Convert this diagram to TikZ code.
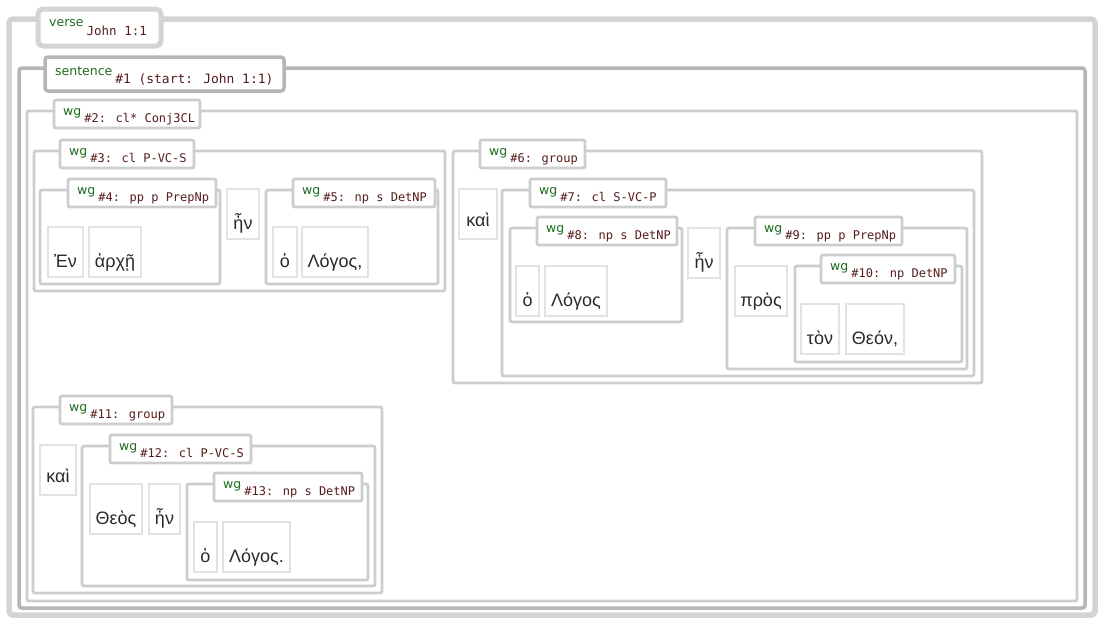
\documentclass[tikz,border=0pt]{standalone}
\usepackage{fontspec}
\setmainfont{Liberation Sans}
\newfontfamily\tagfnt{DejaVu Sans}
\newfontfamily\idfnt{DejaVu Sans Mono}
\definecolor{verc}{HTML}{D4D4D4}
\definecolor{sentc}{HTML}{B6B6B6}
\definecolor{wgc}{HTML}{CDCDCD}
\definecolor{wordc}{HTML}{E2E2E2}
\definecolor{tagc}{HTML}{1F6B1F}
\definecolor{idc}{HTML}{561C1C}
\definecolor{wtc}{HTML}{2A2A2A}

% frame node with its top-left corner at (x1,y1) and bottom-right at (x2,y2)
\newcommand\frameat[6]{%
  \node[#1, minimum width=#5-#3, minimum height=#6-#4] (#2) at (#3,#4) {};}
% label box with tag and id text
\newcommand\tagid[4]{{\tagfnt\fontsize{12.5}{14}\selectfont\color{tagc}#1}\hspace{3pt}%
  \raisebox{-#3}{\idfnt\fontsize{#4}{14}\selectfont\color{idc}#2}}
\newcommand\labelat[9]{%
  \frameat{#1}{#2}{#3}{#4}{#5}{#6}%
  \node[anchor=base west, inner sep=0] (#2t) at ([xshift=#7pt, yshift=-#8pt]#2.north west) {#9};}
\newcommand\wglabel[6]{\labelat{wglab}{#1}{#2}{#3}{#4}{#5}{9}{15}{\tagid{wg}{#6}{7pt}{12}}}
% word box with its text set on a baseline raised from the bottom edge
\newcommand\wordat[7]{%
  \frameat{wbox}{#1}{#2}{#3}{#4}{#5}%
  \node[wtext, anchor=base] (#1t) at ([yshift=#6pt]#1.south) {#7};}

\begin{document}
\begin{tikzpicture}[x=1pt, y=-1pt,
  fr/.style={anchor=north west, inner sep=0pt, outer sep=0pt},
  versebox/.style={fr, draw=verc, line width=5.5pt, rounded corners=4pt},
  verselab/.style={fr, draw=verc, line width=5pt, fill=white, rounded corners=5pt},
  sentbox/.style={fr, draw=sentc, line width=3.5pt, rounded corners=3pt},
  sentlab/.style={fr, draw=sentc, line width=3.5pt, fill=white, rounded corners=3pt},
  wgbox/.style={fr, draw=wgc, line width=2.8pt, rounded corners=2pt},
  wglab/.style={fr, draw=wgc, line width=2.8pt, fill=white, rounded corners=2pt},
  wbox/.style={fr, draw=wordc, line width=1.6pt, fill=white},
  wtext/.style={inner sep=0pt, text=wtc, font=\fontsize{18}{20}\selectfont}]
\useasboundingbox[fill=white] (0,0) rectangle (1106,629);

% verse and sentence
\frameat{versebox}{verse}{9}{19}{1095}{615}
\labelat{verselab}{verseL}{38}{9}{161}{46}{11}{18}{\tagid{verse}{John 1:1}{9pt}{12.5}}
\frameat{sentbox}{sent}{19}{68}{1085}{608}
\labelat{sentlab}{sentL}{45}{57}{284}{91}{10}{18}{\tagid{sentence}{\#1 (start: John 1:1)}{8pt}{12.9}}

% word groups
\frameat{wgbox}{g2}{27}{111}{1077}{601}
\wglabel{L2}{54}{100}{200}{128}{\#2: cl* Conj3CL}

\frameat{wgbox}{g3}{34}{151}{445}{291}
\wglabel{L3}{60}{140}{194}{168}{\#3: cl P-VC-S}
\frameat{wgbox}{g4}{40}{190}{220}{284}
\wglabel{L4}{68}{179}{216}{207}{\#4: pp p PrepNp}
\wordat{w1}{48}{227}{83}{277}{10}{Ἐν}
\wordat{w2}{89}{227}{141}{277}{10}{ἀρχῇ}
\wordat{w3}{227}{189}{259}{239}{10}{ἦν}
\frameat{wgbox}{g5}{266}{190}{438}{284}
\wglabel{L5}{293}{179}{435}{207}{\#5: np s DetNP}
\wordat{w4}{273}{227}{297}{277}{10}{ὁ}
\wordat{w5}{302}{227}{368}{277}{10}{Λόγος,}

\frameat{wgbox}{g6}{453}{151}{982}{383}
\wglabel{L6}{480}{140}{585}{168}{\#6: group}
\wordat{w6}{459}{189}{497}{239}{13}{καὶ}
\frameat{wgbox}{g7}{502}{190}{974}{376}
\wglabel{L7}{530}{179}{666}{207}{\#7: cl S-VC-P}
\frameat{wgbox}{g8}{510}{228}{682}{322}
\wglabel{L8}{537}{217}{677}{245}{\#8: np s DetNP}
\wordat{w7}{516}{266}{539}{316}{10}{ὁ}
\wordat{w8}{545}{266}{607}{316}{10}{Λόγος}
\wordat{w9}{688}{228}{720}{278}{10}{ἦν}
\frameat{wgbox}{g9}{727}{228}{967}{369}
\wglabel{L9}{755}{217}{902}{245}{\#9: pp p PrepNp}
\wordat{w10}{735}{266}{787}{316}{10}{πρὸς}
\frameat{wgbox}{g10}{795}{266}{962}{362}
\wglabel{L10}{821}{255}{955}{283}{\#10: np DetNP}
\wordat{w11}{801}{304}{839}{354}{10}{τὸν}
\wordat{w12}{846}{304}{904}{354}{10}{Θεόν,}

\frameat{wgbox}{g11}{33}{407}{382}{593}
\wglabel{L11}{60}{396}{172}{424}{\#11: group}
\wordat{w13}{40}{445}{76}{495}{13}{καὶ}
\frameat{wgbox}{g12}{82}{446}{375}{586}
\wglabel{L12}{110}{435}{251}{463}{\#12: cl P-VC-S}
\wordat{w14}{90}{484}{142}{534}{10}{Θεὸς}
\wordat{w15}{149}{484}{180}{534}{10}{ἦν}
\frameat{wgbox}{g13}{187}{484}{368}{580}
\wglabel{L13}{214}{473}{362}{501}{\#13: np s DetNP}
\wordat{w16}{194}{522}{217}{572}{10}{ὁ}
\wordat{w17}{223}{522}{290}{572}{10}{Λόγος.}
\end{tikzpicture}
\end{document}
